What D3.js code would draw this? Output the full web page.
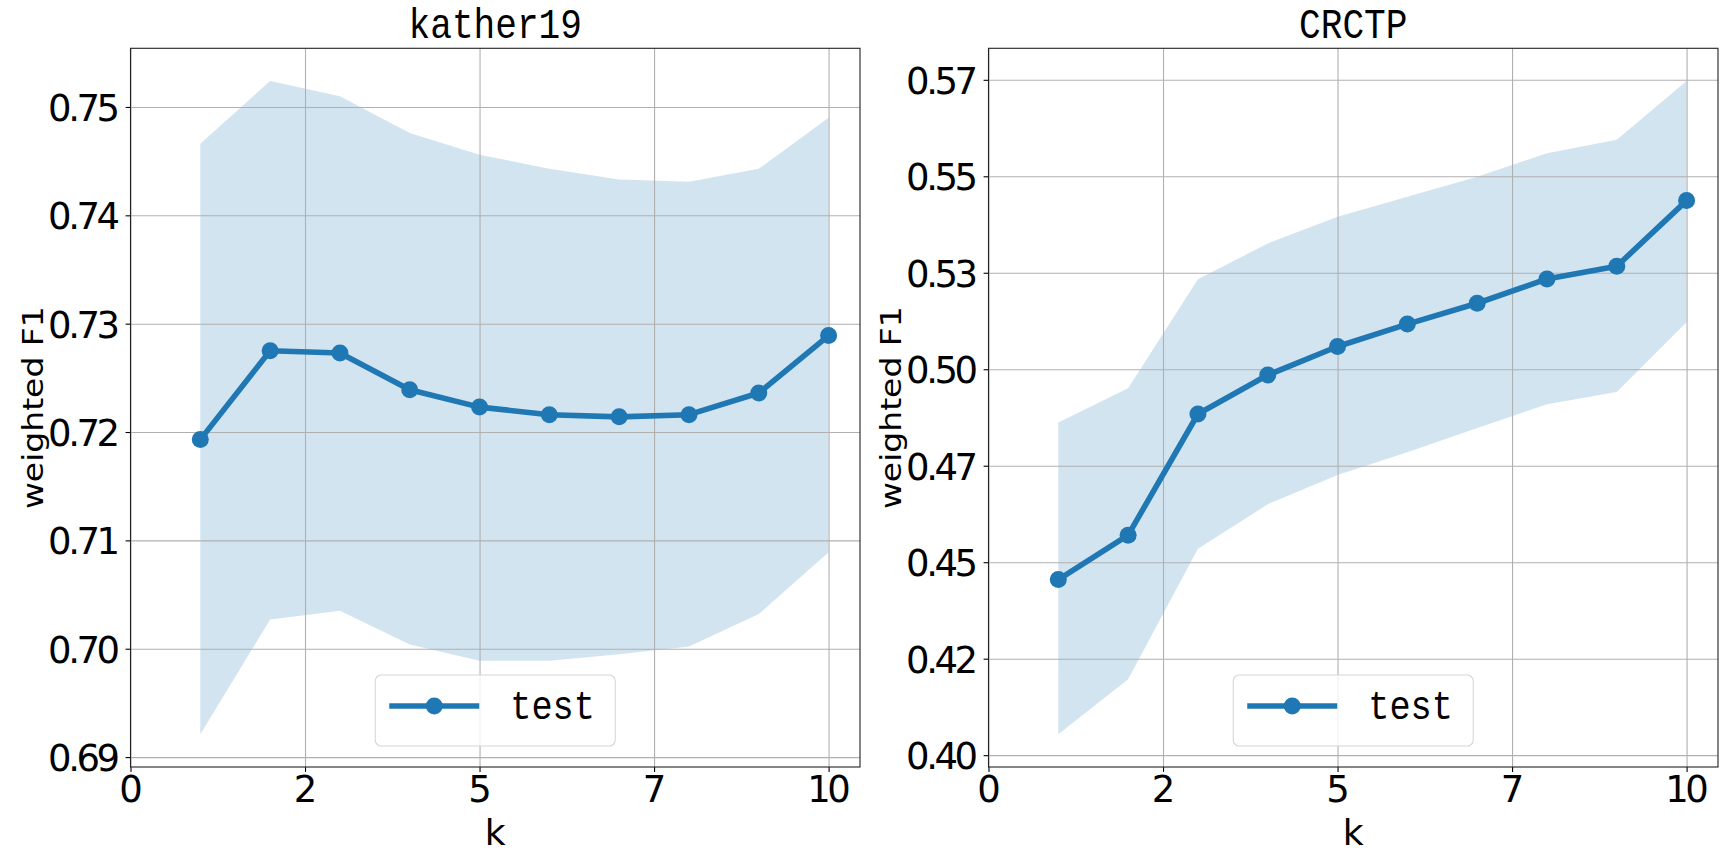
<!DOCTYPE html>
<html>
<head>
<meta charset="utf-8">
<script src="https://cdn.jsdelivr.net/npm/d3@7"></script>
<style>
  body { margin: 0; background: #fff; }
</style>
</head>
<body>
<svg id="chart" width="1728" height="864"></svg>
<script>
// values
var kValues = [1, 2, 3, 4, 5, 6, 7, 8, 9, 10];

var katherMean  = [0.7193, 0.7275, 0.7273, 0.7239, 0.7223, 0.7216, 0.7214, 0.7216, 0.7236, 0.7289];
var katherUpper = [0.7466, 0.7524, 0.7510, 0.7476, 0.7456, 0.7443, 0.7433, 0.7431, 0.7443, 0.7490];
var katherLower = [0.6921, 0.7027, 0.7035, 0.7004, 0.6989, 0.6989, 0.6995, 0.7002, 0.7032, 0.7089];

var crctpMean  = [0.4455, 0.4570, 0.4884, 0.4985, 0.5059, 0.5117, 0.5171, 0.5234, 0.5267, 0.5437];
var crctpUpper = [0.4862, 0.4951, 0.5233, 0.5326, 0.5395, 0.5447, 0.5499, 0.5560, 0.5595, 0.5747];
var crctpLower = [0.4054, 0.4197, 0.4535, 0.4650, 0.4726, 0.4785, 0.4848, 0.4909, 0.4941, 0.5122];

var xTickValues = [0, 2.5, 5, 7.5, 10];
var xTickLabels = ["0", "2", "5", "7", "10"];

var katherTickValues = [0.69, 0.70, 0.71, 0.72, 0.73, 0.74, 0.75];
var katherTickLabels = ["0.69", "0.70", "0.71", "0.72", "0.73", "0.74", "0.75"];

var crctpTickValues = [0.400, 0.425, 0.450, 0.475, 0.500, 0.525, 0.550, 0.575];
var crctpTickLabels = ["0.40", "0.42", "0.45", "0.47", "0.50", "0.53", "0.55", "0.57"];

var panelTitles = ["kather19", "CRCTP"];
var xLabel = "k";
var yLabel = "weighted F1";
var legendLabel = "test";

var blue = "#1f77b4";
var squeeze = 0.86; // labels in the reference are a bit narrow
var sansFont = "'DejaVu Sans', sans-serif";
var monoFont = "'Courier New', 'Nimbus Mono PS', 'FreeMono', 'Liberation Mono', monospace";

var svg = d3.select('#chart');
svg.append('rect').attr('width', 1728).attr('height', 864).attr('fill', '#fff');

function drawPanel(left, right, title, mean, upper, lower, tickValues, tickLabels) {
    var top = 48.3, bottom = 767;
    var g = svg.append('g');

    var xScale = d3.scaleLinear()
        .domain([0, d3.max(kValues) + 0.05 * (d3.max(kValues) - d3.min(kValues))])
        .range([left, right]);

    var lo = d3.min(lower), hi = d3.max(upper);
    var pad = 0.05 * (hi - lo);
    var yScale = d3.scaleLinear()
        .domain([lo - pad, hi + pad])
        .range([bottom, top]);

    var rows = kValues.map(function (k, i) {
        return { k: k, mean: mean[i], upper: upper[i], lower: lower[i] };
    });

    // band
    var band = d3.area()
        .x(function (d) { return xScale(d.k); })
        .y0(function (d) { return yScale(d.lower); })
        .y1(function (d) { return yScale(d.upper); });
    g.append('path')
        .datum(rows)
        .attr('d', band)
        .attr('fill', blue)
        .attr('fill-opacity', 0.2);

    // grid
    var xGrid = g.append('g')
        .attr('transform', 'translate(0,' + bottom + ')')
        .call(d3.axisBottom(xScale).tickValues(xTickValues).tickSize(-(bottom - top)).tickFormat(''));
    var yGrid = g.append('g')
        .attr('transform', 'translate(' + left + ',0)')
        .call(d3.axisLeft(yScale).tickValues(tickValues).tickSize(-(right - left)).tickFormat(''));
    [xGrid, yGrid].forEach(function (gr) {
        gr.select('.domain').remove();
        gr.selectAll('.tick line').attr('stroke', '#b0b0b0').attr('stroke-width', 1.1);
    });

    // mean line + markers
    var line = d3.line()
        .x(function (d) { return xScale(d.k); })
        .y(function (d) { return yScale(d.mean); });
    g.append('path')
        .datum(rows)
        .attr('d', line)
        .attr('fill', 'none')
        .attr('stroke', blue)
        .attr('stroke-width', 5.6)
        .attr('stroke-linejoin', 'round');
    g.selectAll('circle.pt')
        .data(rows)
        .enter().append('circle')
        .attr('class', 'pt')
        .attr('cx', function (d) { return xScale(d.k); })
        .attr('cy', function (d) { return yScale(d.mean); })
        .attr('r', 8.5)
        .attr('fill', blue);

    // axes
    var xAxis = g.append('g')
        .attr('transform', 'translate(0,' + bottom + ')')
        .call(d3.axisBottom(xScale).tickValues(xTickValues)
            .tickFormat(function (d, i) { return xTickLabels[i]; })
            .tickSize(4.9).tickSizeOuter(0).tickPadding(4.9));
    xAxis.select('.domain').remove();
    xAxis.selectAll('.tick line').attr('stroke', '#000').attr('stroke-width', 1.1);
    xAxis.selectAll('.tick text')
        .attr('x', -1.75)
        .attr('y', 35)
        .attr('dy', 0)
        .style('font-family', sansFont)
        .style('font-size', '37px')
        .style('letter-spacing', '-3.5px')
        .attr('fill', '#000');

    var yAxis = g.append('g')
        .attr('transform', 'translate(' + left + ',0)')
        .call(d3.axisLeft(yScale).tickValues(tickValues)
            .tickFormat(function (d, i) { return tickLabels[i]; })
            .tickSize(4.9).tickSizeOuter(0).tickPadding(4.9));
    yAxis.select('.domain').remove();
    yAxis.selectAll('.tick line').attr('stroke', '#000').attr('stroke-width', 1.1);
    yAxis.selectAll('.tick text')
        .attr('x', -14)
        .attr('dy', '0.36em')
        .style('font-family', sansFont)
        .style('font-size', '37px')
        .style('letter-spacing', '-3.5px')
        .attr('fill', '#000');

    // frame
    g.append('rect')
        .attr('x', left).attr('y', top)
        .attr('width', right - left).attr('height', bottom - top)
        .attr('fill', 'none')
        .attr('stroke', '#222')
        .attr('stroke-width', 1.1);

    var cx = (left + right) / 2;

    // title
    g.append('text')
        .attr('transform', 'translate(' + cx + ',38) scale(' + squeeze + ',1)')
        .attr('text-anchor', 'middle')
        .style('font-family', monoFont)
        .style('font-size', '42px')
        .attr('fill', '#000')
        .text(title);

    // axis labels
    g.append('text')
        .attr('transform', 'translate(' + cx + ',845)')
        .attr('text-anchor', 'middle')
        .style('font-family', sansFont)
        .style('font-size', '36px')
        .attr('fill', '#000')
        .text(xLabel);
    g.append('text')
        .attr('transform', 'translate(' + (left - 88) + ',' + ((top + bottom) / 2) + ') scale(' + squeeze + ',1) rotate(-90)')
        .attr('text-anchor', 'middle')
        .style('font-family', sansFont)
        .style('font-size', '33px')
        .attr('fill', '#000')
        .text(yLabel);

    // legend, lower centre
    var lw = 240, lh = 71;
    var lx = cx - lw / 2, ly = bottom - 21 - lh;
    var lg = g.append('g');
    lg.append('rect')
        .attr('x', lx).attr('y', ly)
        .attr('width', lw).attr('height', lh)
        .attr('rx', 6)
        .attr('fill', '#fff').attr('fill-opacity', 0.8)
        .attr('stroke', '#d6d6d6').attr('stroke-width', 1.1);
    lg.append('line')
        .attr('x1', lx + 14).attr('x2', lx + 104)
        .attr('y1', ly + 31).attr('y2', ly + 31)
        .attr('stroke', blue).attr('stroke-width', 5.6);
    lg.append('circle')
        .attr('cx', lx + 59).attr('cy', ly + 31)
        .attr('r', 8.5).attr('fill', blue);
    lg.append('text')
        .attr('transform', 'translate(' + (lx + 135) + ',' + (ly + 44) + ') scale(' + squeeze + ',1)')
        .style('font-family', monoFont)
        .style('font-size', '41px')
        .attr('fill', '#000')
        .text(legendLabel);
}

drawPanel(130.5, 860, panelTitles[0], katherMean, katherUpper, katherLower, katherTickValues, katherTickLabels);
drawPanel(988.5, 1718, panelTitles[1], crctpMean, crctpUpper, crctpLower, crctpTickValues, crctpTickLabels);
</script>
</body>
</html>
